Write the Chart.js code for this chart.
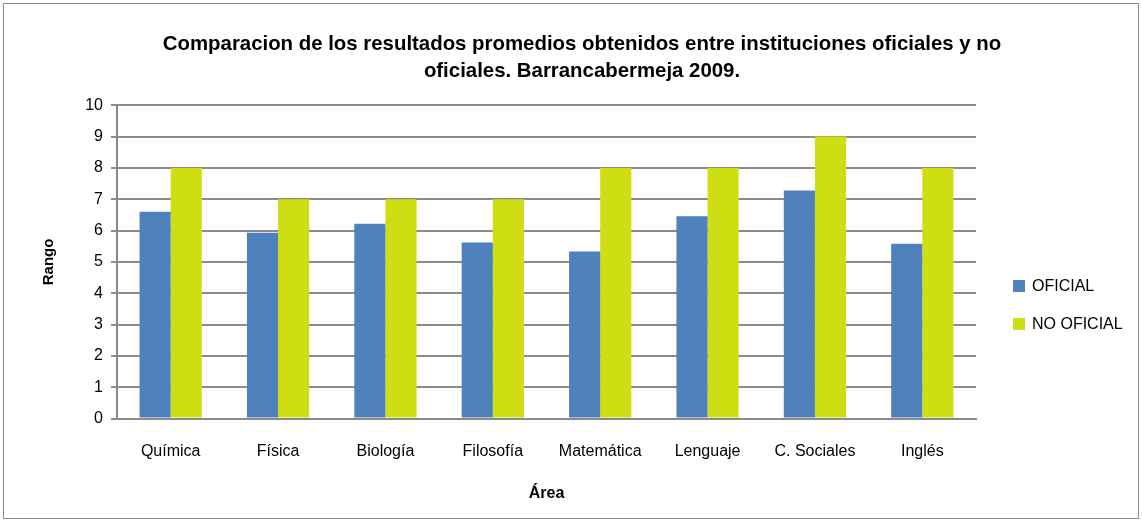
<!DOCTYPE html>
<html>
<head>
<meta charset="utf-8">
<script src="https://cdn.jsdelivr.net/npm/chart.js@4.4.0/dist/chart.umd.min.js"></script>
<style>
  html, body { margin: 0; padding: 0; background: #fff; }
  #wrap { position: absolute; left: 3px; top: 3px; width: 1134px; height: 514px; border: 1px solid #8a8a8a; }
  #box { position: absolute; left: 0; top: 0; width: 1142px; height: 521px; }
</style>
</head>
<body>
<div id="wrap"></div>
<div id="box"><canvas id="barChart" width="1142" height="521"></canvas></div>
<script>
const areas = ['Química', 'Física', 'Biología', 'Filosofía', 'Matemática', 'Lenguaje', 'C. Sociales', 'Inglés'];
const oficial = [6.6, 5.93, 6.22, 5.62, 5.33, 6.46, 7.28, 5.58];
const noOficial = [8, 7, 7, 7, 8, 8, 9, 8];
const yTicks = [0, 1, 2, 3, 4, 5, 6, 7, 8, 9, 10];

// legend drawn to the right of the plot, like the original sheet
const sideLegend = {
  id: 'sideLegend',
  afterDraw(chart) {
    const c = chart.ctx;
    c.save();
    c.font = "16px 'Liberation Sans', sans-serif";
    c.textBaseline = 'middle';
    chart.data.datasets.forEach((ds, i) => {
      const y = 286 + i * 38;
      c.fillStyle = ds.backgroundColor;
      c.fillRect(1013, y - 6, 12, 12);
      c.fillStyle = '#000';
      c.fillText(ds.label, 1032, y + 1);
    });
    c.restore();
  }
};

document.addEventListener('DOMContentLoaded', function() {
  const ctx = document.getElementById('barChart').getContext('2d');
  new Chart(ctx, {
    type: 'bar',
    data: {
      labels: areas,
      datasets: [{
        label: 'OFICIAL',
        data: oficial,
        backgroundColor: 'rgb(79, 129, 189)',
        categoryPercentage: 0.58,
        barPercentage: 1.0
      }, {
        label: 'NO OFICIAL',
        data: noOficial,
        backgroundColor: 'rgb(206, 222, 18)',
        categoryPercentage: 0.58,
        barPercentage: 1.0
      }]
    },
    options: {
      responsive: false,
      animation: false,
      layout: { padding: { left: 36, right: 14, top: 31, bottom: 14 } },
      plugins: {
        title: {
          display: true,
          text: ['Comparacion de los resultados promedios obtenidos entre instituciones oficiales y no', 'oficiales. Barrancabermeja 2009.'],
          color: '#000',
          font: { family: "'Liberation Sans', sans-serif", size: 20.4, weight: 'bold', lineHeight: 1.33 },
          padding: { top: 0, bottom: 20 }
        },
        legend: { display: false },
        tooltip: { enabled: false }
      },
      scales: {
        x: {
          grid: { display: false, drawTicks: false },
          border: { color: '#8a8a8a', width: 2 },
          ticks: { color: '#000', padding: 23, font: { family: "'Liberation Sans', sans-serif", size: 16 } },
          title: {
            display: true,
            text: 'Área',
            color: '#000',
            font: { family: "'Liberation Sans', sans-serif", size: 16, weight: 'bold' },
            padding: { top: 0 }
          }
        },
        y: {
          min: 0,
          max: 10,
          afterBuildTicks: function(scale) { scale.ticks = yTicks.map(v => ({ value: v })); },
          afterFit: function(scale) { scale.width = 81; },
          grid: { color: '#8c8c8c', lineWidth: 2, tickLength: 6, tickColor: '#8c8c8c' },
          border: { color: '#8a8a8a', width: 2 },
          ticks: { color: '#000', padding: 8, font: { family: "'Liberation Sans', sans-serif", size: 16 } },
          title: {
            display: true,
            text: 'Rango',
            color: '#000',
            font: { family: "'Liberation Sans', sans-serif", size: 15, weight: 'bold' },
            padding: { bottom: 10 }
          }
        },
        // empty axis on the right keeps room for the legend
        legendSpace: {
          type: 'linear',
          position: 'right',
          display: true,
          grid: { display: false, drawTicks: false },
          border: { display: false },
          ticks: { display: false },
          afterFit: function(scale) { scale.width = 152; }
        }
      }
    },
    plugins: [sideLegend]
  });
});
</script>
</body>
</html>
